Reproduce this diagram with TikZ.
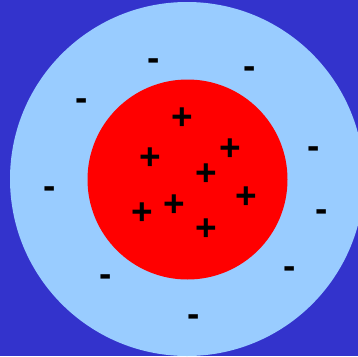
\documentclass[tikz,border=0pt]{standalone}
\usepackage{fontspec}
\setmainfont{Liberation Sans}
\definecolor{bgblue}{HTML}{3333CC}
\definecolor{lightblue}{HTML}{99CCFF}
\definecolor{redfill}{HTML}{FF0000}
\begin{document}
\begin{tikzpicture}[x=1pt,y=-1pt,
  charge/.style={inner sep=0pt,font=\fontsize{37}{37}\selectfont\bfseries,text=black},
  poscharge/.style={charge,yshift=-3pt},
  negcharge/.style={charge,yshift=-5pt}]
\useasboundingbox (0,0) rectangle (358,356);
\clip (0,0) rectangle (358,356);
\fill[bgblue] (0,0) rectangle (358,356);
\fill[lightblue] (187,179) circle[radius=177];
\fill[redfill] (187.5,179.5) circle[radius=100];
% positive charges
\node[poscharge] (p1) at (182,115.5) {+};
\node[poscharge] (p2) at (150.5,155.5) {+};
\node[poscharge] (p3) at (230.5,146.5) {+};
\node[poscharge] (p4) at (206.5,171.5) {+};
\node[poscharge] (p5) at (246.5,195) {+};
\node[poscharge] (p6) at (142.5,210.5) {+};
\node[poscharge] (p7) at (174.5,202.5) {+};
\node[poscharge] (p8) at (206.5,226.5) {+};
% negative charges
\node[negcharge] (n1) at (154,59.5) {-};
\node[negcharge] (n2) at (250,67.5) {-};
\node[negcharge] (n3) at (82,99.5) {-};
\node[negcharge] (n4) at (314,147.5) {-};
\node[negcharge] (n5) at (50,187.5) {-};
\node[negcharge] (n6) at (321.5,211) {-};
\node[negcharge] (n7) at (106,275.5) {-};
\node[negcharge] (n8) at (290,267.5) {-};
\node[negcharge] (n9) at (194,315.5) {-};
\end{tikzpicture}
\end{document}
